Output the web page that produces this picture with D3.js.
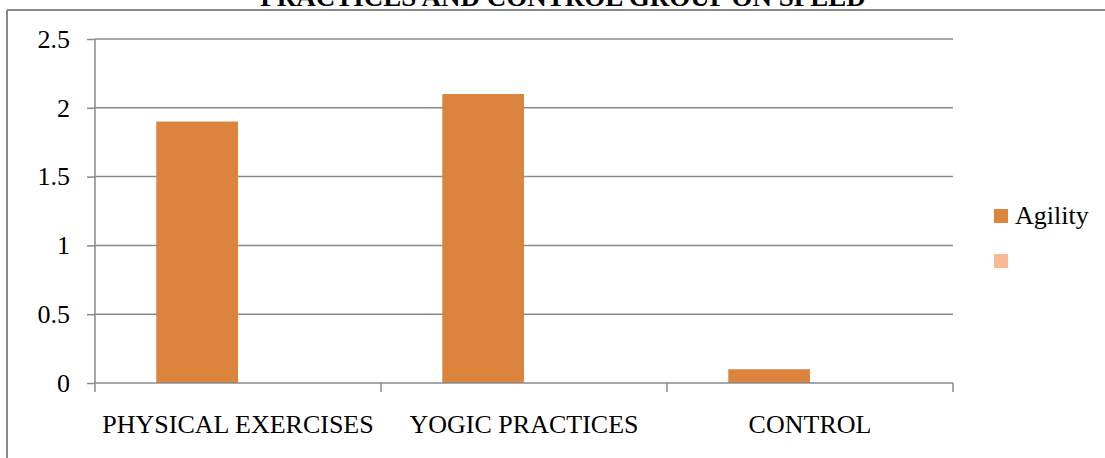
<!DOCTYPE html>
<html>
<head>
<meta charset="utf-8">
<script src="https://cdn.jsdelivr.net/npm/d3@7"></script>
<style>
  html, body { margin: 0; padding: 0; background: #fff; }
  svg { display: block; font-family: "Liberation Serif", "Times New Roman", serif; }
</style>
</head>
<body>
<svg id="chart" width="1105" height="458"></svg>
<script>
// Chart data
const title = "PRACTICES AND CONTROL GROUP ON SPEED";
const categories = ["PHYSICAL EXERCISES", "YOGIC PRACTICES", "CONTROL"];
const seriesNames = ["Agility", ""];
const agilityValues = [1.9, 2.1, 0.1];
const secondValues = [null, null, null];
const seriesColors = ["#DA843E", "#F9B792"];
const yTicks = [0, 0.5, 1, 1.5, 2, 2.5];

const svg = d3.select("#chart");
const W = 1105, H = 458;
const plot = { left: 95, right: 953, top: 39, bottom: 383 };
const gridColor = "#8a8a8a";
const fontFamily = "Liberation Serif, Times New Roman, serif";
const fontSize = 26;

// Outer frame (left and top edges visible)
svg.append("line").attr("x1", 7).attr("x2", 7).attr("y1", 10).attr("y2", H)
  .attr("stroke", gridColor).attr("stroke-width", 2);
svg.append("line").attr("x1", 7).attr("x2", W).attr("y1", 10).attr("y2", 10)
  .attr("stroke", gridColor).attr("stroke-width", 2);

// Title (top portion falls above the frame)
svg.append("text").attr("x", 563).attr("y", 6)
  .attr("text-anchor", "middle").attr("font-weight", "bold")
  .attr("font-size", 27).attr("fill", "#000").text(title);

// Scales
const y = d3.scaleLinear().domain([0, 2.5]).range([plot.bottom, plot.top]);
const x = d3.scaleBand().domain(categories).range([plot.left, plot.right])
  .paddingInner(0).paddingOuter(0);
const xs = d3.scaleBand().domain(seriesNames).range([0, x.bandwidth()])
  .paddingInner(0).paddingOuter(0.75);

// Gridlines
svg.append("g").selectAll("line").data(yTicks.filter(d => d > 0)).join("line")
  .attr("x1", plot.left).attr("x2", plot.right)
  .attr("y1", d => y(d)).attr("y2", d => y(d))
  .attr("stroke", gridColor).attr("stroke-width", 1.5);

// Y axis
const yAxis = svg.append("g").attr("transform", `translate(${plot.left},0)`)
  .call(d3.axisLeft(y).tickValues(yTicks).tickSize(8).tickPadding(17)
    .tickFormat(d3.format("")));
yAxis.select(".domain").remove();
yAxis.selectAll(".tick line").attr("stroke", gridColor).attr("stroke-width", 1.5);
yAxis.selectAll(".tick text").attr("font-size", fontSize).attr("fill", "#000")
  .attr("font-family", fontFamily);
svg.append("line").attr("x1", plot.left).attr("x2", plot.left)
  .attr("y1", plot.top).attr("y2", plot.bottom + 9)
  .attr("stroke", gridColor).attr("stroke-width", 1.5);

// Bars
const series = [agilityValues, secondValues];
series.forEach((vals, si) => {
  svg.append("g").selectAll("rect")
    .data(categories.map((c, i) => ({ c, v: vals[i] })).filter(d => d.v != null))
    .join("rect")
    .attr("x", d => x(d.c) + xs(seriesNames[si]))
    .attr("width", xs.bandwidth())
    .attr("y", d => y(d.v))
    .attr("height", d => y(0) - y(d.v))
    .attr("fill", seriesColors[si]);
});

// X axis
const xAxis = svg.append("g").attr("transform", `translate(0,${plot.bottom})`)
  .call(d3.axisBottom(x).tickSize(0));
xAxis.select(".domain").remove();
xAxis.selectAll(".tick text").attr("font-size", fontSize).attr("fill", "#000")
  .attr("font-family", fontFamily).attr("y", 50).attr("dy", null);
svg.append("line").attr("x1", plot.left).attr("x2", plot.right)
  .attr("y1", plot.bottom).attr("y2", plot.bottom)
  .attr("stroke", gridColor).attr("stroke-width", 1.5);
// Category separators
svg.append("g").selectAll("line").data(categories).join("line")
  .attr("x1", d => x(d) + x.bandwidth()).attr("x2", d => x(d) + x.bandwidth())
  .attr("y1", plot.bottom).attr("y2", plot.bottom + 9)
  .attr("stroke", gridColor).attr("stroke-width", 1.5);

// Legend
const legend = svg.append("g").attr("transform", "translate(994,209)");
seriesNames.forEach((name, i) => {
  const g = legend.append("g").attr("transform", `translate(0,${i * 45})`);
  g.append("rect").attr("width", 14).attr("height", 14).attr("fill", seriesColors[i]);
  g.append("text").attr("x", 21).attr("y", 15).attr("font-size", fontSize)
    .attr("fill", "#000").text(name);
});
</script>
</body>
</html>
